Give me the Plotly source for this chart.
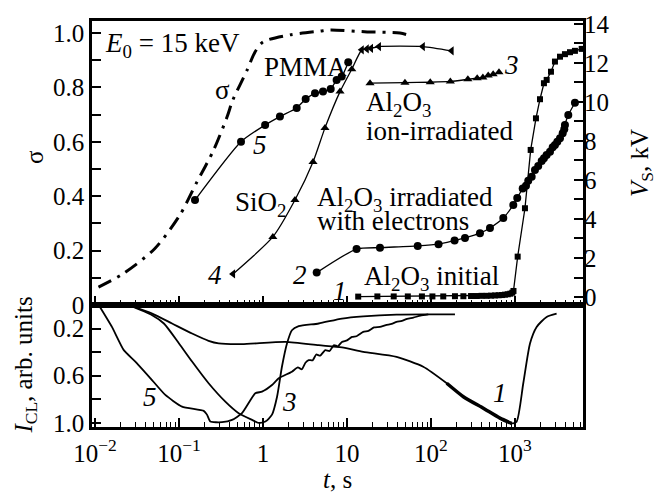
import plotly.graph_objects as go

# ---------------- data ----------------
# sigma (dash-dot), left axis
t_sig = [0.011, 0.0214, 0.0513, 0.102, 0.162, 0.257, 0.372, 0.437, 0.646, 0.804, 1.0, 2.09, 4.79, 6.31, 17.4, 42.7, 56.2]
sigma = [0.066, 0.114, 0.207, 0.33, 0.45, 0.568, 0.69, 0.753, 0.863, 0.93, 0.967, 0.993, 1.007, 1.011, 1.004, 1.0, 0.99]

# V_S curves (kV), right axis
t1 = [13.6, 23, 36, 53, 78, 104, 140, 193, 243, 300, 350, 400, 460, 520, 580, 640, 700, 760, 820, 880, 930, 960,
      1077, 1315, 1538, 1778, 1985, 2213, 2385, 2683, 2993, 3436, 3936, 4519, 5176, 6225]
v1 = [0.02, 0.03, 0.03, 0.03, 0.03, 0.03, 0.03, 0.04, 0.04, 0.05, 0.05, 0.06, 0.06, 0.07, 0.08, 0.09, 0.1, 0.12, 0.14, 0.17, 0.22, 0.31,
      2.07, 4.55, 7.54, 9.16, 10.14, 10.96, 11.13, 11.55, 12.07, 12.32, 12.45, 12.55, 12.62, 12.72]

t2 = [4.36, 13.0, 24.7, 69.5, 123, 191, 254, 383, 504, 726, 955, 1064, 1236, 1352, 1439, 1581, 1730, 1892, 2080,
      2213, 2382, 2612, 2812, 2992, 3192, 3436, 3698, 3864, 3936, 4315, 5176]
v2 = [1.25, 2.46, 2.53, 2.62, 2.71, 2.90, 3.03, 3.27, 3.54, 4.05, 4.72, 5.08, 5.56, 5.71, 5.96, 6.17, 6.51, 6.72, 6.97,
      7.11, 7.28, 7.45, 7.68, 7.79, 7.96, 8.14, 8.39, 8.60, 8.82, 9.33, 9.96]

t3 = [18.8, 49, 98, 170, 275, 355, 415, 480, 550, 645]
v3 = [10.96, 10.99, 11.01, 11.05, 11.16, 11.22, 11.25, 11.35, 11.42, 11.52]

t4 = [0.44, 1.31, 2.40, 3.94, 5.47, 8.26, 11.4, 15.0, 17.2, 19.3, 24.0, 80, 176]
v4 = [1.18, 3.08, 4.97, 6.92, 8.67, 10.53, 11.68, 12.67, 12.72, 12.75, 12.84, 12.84, 12.62]
sym4 = ["triangle-left", "triangle-up", "triangle-up", "triangle-up", "triangle-up", "triangle-up", "triangle-up",
        "triangle-left", "triangle-left", "triangle-left", "triangle-left", "triangle-left", "triangle-left"]

t5 = [0.155, 0.547, 1.06, 1.59, 2.52, 3.22, 4.16, 5.18, 6.40, 7.53, 8.65, 10.35]
v5 = [4.97, 7.96, 8.82, 9.25, 9.69, 10.15, 10.44, 10.53, 10.67, 11.13, 11.30, 12.04]

# I_CL curves (lower panel, reversed axis)
tc1 = [0.0251, 0.0479, 0.0826, 0.143, 0.225, 0.297, 0.562, 1.85, 4.6, 8.71, 15.6, 38.9, 80.9, 154, 243, 420, 662, 912,
       1047, 1256, 1510, 1811, 2382, 3133]
ic1 = [0.0, 0.073, 0.157, 0.242, 0.304, 0.326, 0.332, 0.313, 0.341, 0.36, 0.397, 0.44, 0.524, 0.664, 0.778, 0.876, 0.96, 1.005,
       0.989, 0.664, 0.326, 0.186, 0.101, 0.073]

tc3 = [0.0251, 0.0479, 0.0661, 0.1, 0.143, 0.225, 0.356, 0.513, 0.74, 0.887, 1.067, 1.28, 1.47, 1.68, 1.93, 2.21, 2.66,
       4.6, 8.71, 15.6, 38.9, 97.3, 193]
ic3 = [0.0, 0.087, 0.157, 0.326, 0.48, 0.664, 0.82, 0.918, 0.975, 1.0, 0.989, 0.93, 0.778, 0.524, 0.326, 0.214, 0.18,
       0.157, 0.115, 0.096, 0.081, 0.079, 0.079]

tc5 = [0.01107, 0.0159, 0.022, 0.0302, 0.0455, 0.0687, 0.1086, 0.1968, 0.2153, 0.236, 0.325, 0.428, 0.562, 0.809, 0.973,
       1.28, 1.54, 2.21, 2.6, 2.9, 3.2, 3.5, 3.9, 4.3, 4.8, 5.5, 6.2, 7.0, 7.8, 8.7, 10, 11.5, 13, 15.6, 18, 21, 24.7,
       29, 34, 38.9, 45, 52, 61.7, 75, 92.9]
ic5 = [0.0, 0.186, 0.383, 0.48, 0.62, 0.763, 0.862, 0.898, 0.93, 0.989, 0.994, 0.975, 0.918, 0.749, 0.735,
       0.679, 0.622, 0.566, 0.53, 0.545, 0.49, 0.467, 0.47, 0.42, 0.43, 0.383, 0.39, 0.34, 0.35, 0.313, 0.30, 0.27, 0.265, 0.228, 0.22, 0.19, 0.186,
       0.17, 0.16, 0.144, 0.135, 0.118, 0.107, 0.09, 0.079]

x_tickvals = [0.01, 0.1, 1, 10, 100, 1000]
x_ticktext = ["10<sup>\u22122</sup>", "10<sup>\u22121</sup>", "1", "10", "10<sup>2</sup>", "10<sup>3</sup>"]
x_minor = [m * 10.0 ** e for e in range(-2, 4) for m in range(2, 10)]

sig_tickvals = [0, 0.2, 0.4, 0.6, 0.8, 1.0]
sig_ticktext = ["0", "0.2", "0.4", "0.6", "0.8", "1.0"]
v_tickvals = [0, 2, 4, 6, 8, 10, 12, 14]
i_tickvals = [0.2, 0.4, 0.6, 0.8, 1.0]
i_ticktext = ["0.2", "", "0.6", "", "1.0"]

# ---------------- figure ----------------
FONT = "Liberation Serif"
FS = 25      # tick labels, axis titles
FA = 27      # in-plot labels
BLK = "black"

fig = go.Figure()

line_kw = dict(color=BLK, width=1.3, shape="spline", smoothing=0.6)

fig.add_trace(go.Scatter(x=t_sig, y=sigma, mode="lines", xaxis="x", yaxis="y",
                         line=dict(color=BLK, width=3, dash="14px,7px,3px,7px", shape="spline", smoothing=0.8)))
fig.add_trace(go.Scatter(x=t1, y=v1, mode="lines+markers", xaxis="x", yaxis="y2",
                         line=dict(color=BLK, width=1.3), marker=dict(symbol="square", size=6, color=BLK)))
fig.add_trace(go.Scatter(x=t2, y=v2, mode="lines+markers", xaxis="x", yaxis="y2",
                         line=line_kw, marker=dict(symbol="circle", size=8, color=BLK)))
fig.add_trace(go.Scatter(x=t3, y=v3, mode="lines+markers", xaxis="x", yaxis="y2",
                         line=line_kw, marker=dict(symbol="triangle-up", size=8, color=BLK)))
fig.add_trace(go.Scatter(x=t4, y=v4, mode="lines+markers", xaxis="x", yaxis="y2",
                         line=line_kw, marker=dict(symbol=sym4, size=8, color=BLK)))
fig.add_trace(go.Scatter(x=t5, y=v5, mode="lines+markers", xaxis="x", yaxis="y2",
                         line=line_kw, marker=dict(symbol="circle", size=8, color=BLK)))

# lower panel
fig.add_trace(go.Scatter(x=tc1, y=ic1, mode="lines", xaxis="x2", yaxis="y3",
                         line=dict(color=BLK, width=1.8, shape="spline", smoothing=0.6)))
fig.add_trace(go.Scatter(x=tc1[13:18], y=ic1[13:18], mode="lines", xaxis="x2", yaxis="y3",
                         line=dict(color=BLK, width=3.5, shape="spline", smoothing=0.6)))
fig.add_trace(go.Scatter(x=tc3, y=ic3, mode="lines", xaxis="x2", yaxis="y3",
                         line=dict(color=BLK, width=1.8, shape="spline", smoothing=0.6)))
fig.add_trace(go.Scatter(x=tc5, y=ic5, mode="lines", xaxis="x2", yaxis="y3",
                         line=dict(color=BLK, width=1.8, shape="spline", smoothing=0.5)))

XR = [-2.036, 3.81]
split = 122 / 406

tickfont = dict(family=FONT, size=FS, color=BLK)
common_x = dict(type="log", range=XR, showgrid=False, zeroline=False, showline=True, linecolor=BLK, linewidth=2.5,
                mirror=True, ticks="inside", ticklen=9, tickwidth=1.5, tickcolor=BLK,
                tickmode="array", tickvals=x_tickvals, ticktext=x_ticktext,
                minor=dict(tickmode="array", tickvals=x_minor, ticks="inside", ticklen=5, tickwidth=1.2, tickcolor=BLK, showgrid=False),
                tickfont=tickfont)

fig.update_layout(
    width=663, height=494,
    margin=dict(l=92, r=80, t=21, b=67),
    paper_bgcolor="white", plot_bgcolor="white",
    showlegend=False,
    font=dict(family=FONT, size=FS, color=BLK),
    xaxis=dict(common_x, anchor="y", domain=[0, 1], showticklabels=False),
    xaxis2=dict(common_x, anchor="y3", domain=[0, 1], ticklabelstandoff=2),
    yaxis=dict(domain=[split, 1], anchor="x", range=[0, 1.044], showgrid=False, zeroline=False,
               showline=True, linecolor=BLK, linewidth=2.5, mirror=True,
               ticks="inside", ticklen=9, tickwidth=1.5, tickcolor=BLK,
               tickmode="array", tickvals=sig_tickvals, ticktext=sig_ticktext,
               minor=dict(dtick=0.1, tick0=0, ticks="inside", ticklen=9, tickwidth=1.5, tickcolor=BLK, showgrid=False),
               tickfont=tickfont),
    yaxis2=dict(overlaying="y", side="right", anchor="x", range=[-0.41, 14.15], showgrid=False, zeroline=False,
                showline=False, ticks="inside", ticklen=9, tickwidth=1.5, tickcolor=BLK,
                tickmode="array", tickvals=v_tickvals,
                minor=dict(dtick=1, tick0=0, ticks="inside", ticklen=9, tickwidth=1.5, tickcolor=BLK, showgrid=False),
                tickfont=tickfont),
    yaxis3=dict(domain=[0, split], anchor="x2", range=[1.035, 0], showgrid=False, zeroline=False,
                showline=True, linecolor=BLK, linewidth=2.5, mirror=True,
                ticks="inside", ticklen=9, tickwidth=1.5, tickcolor=BLK,
                tickmode="array", tickvals=i_tickvals, ticktext=i_ticktext,
                tickfont=tickfont),
)

def ann(text, x, y, xref="x", yref="y", xanchor="left", yanchor="middle", italic=False, angle=0, size=FA):
    if italic:
        text = "<i>" + text + "</i>"
    fig.add_annotation(text=text, x=x, y=y, xref=xref, yref=yref, xanchor=xanchor, yanchor=yanchor,
                       showarrow=False, textangle=angle, font=dict(family=FONT, size=size, color=BLK))

# in-plot labels (top panel, x in log10 units, y in sigma units)
ann("<i>E</i><sub>0</sub> = 15 keV", -1.905, 0.955)
ann("PMMA", -0.01, 0.875)
ann("\u03c3", -0.488, 0.79, xanchor="center")
ann("5", -0.036, 0.587, xanchor="center", italic=True)
ann("SiO<sub>2</sub>", -0.36, 0.37)
ann("4", -0.571, 0.111, xanchor="center", italic=True)
ann("2", 0.44, 0.111, xanchor="center", italic=True)
ann("3", 2.964, 0.882, xanchor="center", italic=True)
ann("1", 0.917, 0.052, xanchor="center", italic=True)
ann("Al<sub>2</sub>O<sub>3</sub>", 1.205, 0.74)
ann("ion-irradiated", 1.205, 0.64)
ann("Al<sub>2</sub>O<sub>3</sub> irradiated", 0.62, 0.39)
ann("with electrons", 0.62, 0.31)
ann("Al<sub>2</sub>O<sub>3</sub> initial", 1.18, 0.10)

# lower panel labels
ann("5", -1.345, 0.78, xref="x2", yref="y3", xanchor="center", italic=True)
ann("3", 0.31, 0.82, xref="x2", yref="y3", xanchor="center", italic=True)
ann("1", 2.82, 0.746, xref="x2", yref="y3", xanchor="center", italic=True)

# axis titles
ann("\u03c3", -0.118, 0.665, xref="paper", yref="paper", xanchor="center", angle=-90, size=FS)
ann("<i>I</i><sub>CL</sub>, arb. units", -0.135, 0.153, xref="paper", yref="paper", xanchor="center", angle=-90, size=FS)
ann("<i>V</i><sub>S</sub>, kV", 1.118, 0.65, xref="paper", yref="paper", xanchor="center", angle=-90, size=FS)
ann("<i>t</i>, s", 0.501, -0.13, xref="paper", yref="paper", xanchor="center", size=FS)

fig.write_html("out.html")
